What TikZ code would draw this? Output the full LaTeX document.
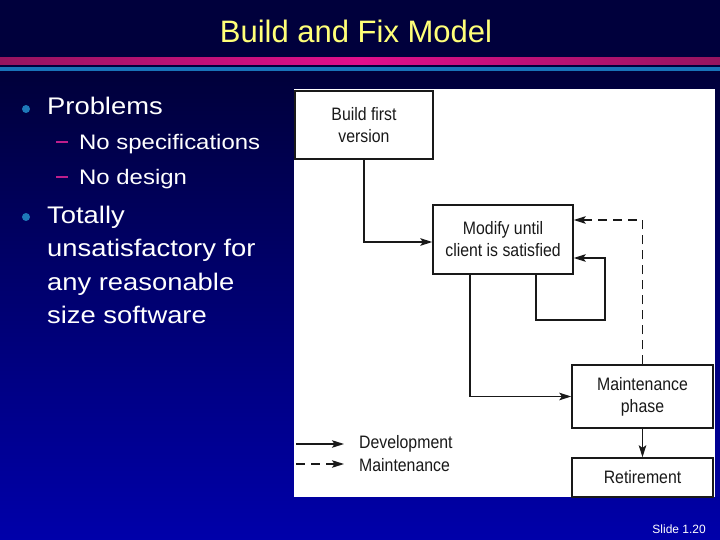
\documentclass[tikz,border=0pt]{standalone}
\usepackage{fontspec}
\setmainfont{Liberation Sans}
\newfontfamily\bodyfont[FakeStretch=1.14]{Liberation Sans}
\newfontfamily\narrowfont[FakeStretch=0.88]{Liberation Sans}
\usetikzlibrary{arrows.meta}
\definecolor{navytop}{RGB}{0,0,58}
\definecolor{navybot}{RGB}{0,0,170}
\definecolor{titlebg}{RGB}{0,0,60}
\definecolor{magA}{RGB}{150,20,95}
\definecolor{magB}{RGB}{225,15,140}
\definecolor{stripe}{RGB}{25,115,185}
\definecolor{titleyel}{RGB}{255,255,120}
\definecolor{dotblue}{RGB}{30,120,185}
\definecolor{dashmag}{RGB}{190,30,140}
\definecolor{ink}{RGB}{25,25,25}
\tikzset{
  box/.style={draw=ink, line width=1.4pt, fill=white, inner sep=0pt, align=center,
    font=\narrowfont\fontsize{18}{22}\selectfont, text=ink},
  dev/.style={draw=ink, line width=1.4pt, -{Stealth[length=12pt,width=7.5pt,inset=2.5pt]}},
  mnt/.style={dev, dash pattern=on 9pt off 6pt},
  lvlone/.style={anchor=base west, inner sep=0pt, text=white, font=\bodyfont\fontsize{24}{30}\selectfont},
  lvltwo/.style={anchor=base west, inner sep=0pt, text=white, font=\bodyfont\fontsize{21}{26}\selectfont},
  legtext/.style={anchor=west, inner sep=0pt, text=ink, font=\narrowfont\fontsize{18}{22}\selectfont},
  bdot/.style={fill=dotblue, draw=none},
}
\begin{document}
\begin{tikzpicture}[x=1pt,y=-1pt]
\useasboundingbox (0,0) rectangle (720,540);
% background
\fill[titlebg] (0,0) rectangle (720,72);
\shade[top color=navytop, bottom color=navybot] (0,71) rectangle (720,540);
\shade[left color=magA, right color=magA, middle color=magB] (0,58) rectangle (720,65);
\fill[stripe] (0,67) rectangle (720,71);
% title
\node[anchor=base, text=titleyel, font=\fontsize{31}{36}\selectfont, inner sep=0pt] (title) at (356,43) {Build and Fix Model};
% bullets
\fill[bdot] (26,109) circle (4);
\node[lvlone] (p1) at (47,115) {Problems};
\draw[dashmag, line width=2pt] (56,142) -- (68,142);
\node[lvltwo] (p2) at (79,150) {No specifications};
\draw[dashmag, line width=2pt] (56,177) -- (68,177);
\node[lvltwo] (p3) at (79,185) {No design};
\fill[bdot] (26,217) circle (4);
\node[lvlone] (t1) at (47,223) {Totally};
\node[lvlone] (t2) at (47,256.5) {unsatisfactory for};
\node[lvlone] (t3) at (47,290) {any reasonable};
\node[lvlone] (t4) at (47,323.5) {size software};
% panel
\fill[white] (294,89) rectangle (715,497);
% boxes
\node[box, minimum width=138pt, minimum height=68pt] (build) at (364,125) {Build first\\version};
\node[box, minimum width=140pt, minimum height=69pt] (modify) at (503,239.5) {Modify until\\client is satisfied};
\node[box, minimum width=141pt, minimum height=63pt] (maint) at (642.5,396.5) {Maintenance\\phase};
\node[box, minimum width=141pt, minimum height=39pt] (retire) at (642.5,477.5) {Retirement};
% connectors
\draw[dev] (build.south) |- ([yshift=-2.5pt]modify.west);
\draw[mnt] (maint.north) |- ([yshift=19.5pt]modify.east);
\coordinate (l1) at (536,320);
\coordinate (l2) at (605,320);
\draw[dev] (modify.south -| l1) -- (l1) -- (l2) |- ([yshift=-18.5pt]modify.east);
\coordinate (m1) at (470,396.5);
\draw[dev] (modify.south -| m1) -- (m1) -- (maint.west);
\draw[dev] (maint.south) -- (retire.north);
% legend
\coordinate (ga) at (296,444);
\coordinate (gb) at (344,444);
\coordinate (gc) at (296,464);
\coordinate (gd) at (344,464);
\draw[dev] (ga) -- (gb);
\draw[mnt] (gc) -- (gd);
\node[legtext] (ldev) at (359,444) {Development};
\node[legtext] (lmnt) at (359,465) {Maintenance};
% slide number
\node[anchor=base east, inner sep=0pt, text=white, font=\fontsize{12}{14}\selectfont] (slide) at (706,533) {Slide 1.20};
\end{tikzpicture}
\end{document}
